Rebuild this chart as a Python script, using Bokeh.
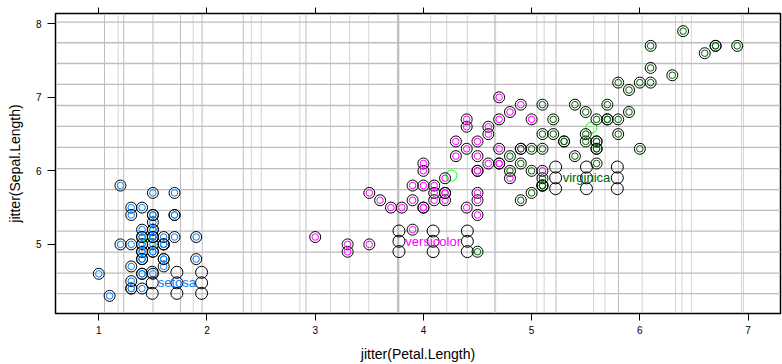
import numpy as np
from bokeh.plotting import figure
from bokeh.models import LinearAxis, Range1d, FixedTicker, CustomLabelingPolicy
from bokeh.embed import file_html
from bokeh.resources import INLINE
from bokeh.core.properties import value

species = ["setosa", "versicolor", "virginica"]
colors = ["#0080ff", "#ff00ff", "#006400"]

petal_setosa = [1.4, 1.4, 1.3, 1.5, 1.4, 1.7, 1.4, 1.5, 1.4, 1.5, 1.5, 1.6, 1.4, 1.1, 1.2, 1.5, 1.3, 1.4, 1.7, 1.5,
                1.7, 1.5, 1.0, 1.7, 1.9, 1.6, 1.6, 1.5, 1.4, 1.6, 1.6, 1.5, 1.5, 1.4, 1.5, 1.2, 1.3, 1.4, 1.3, 1.5,
                1.3, 1.3, 1.3, 1.6, 1.9, 1.4, 1.6, 1.4, 1.5, 1.4]
sepal_setosa = [5.1, 4.9, 4.7, 4.6, 5.0, 5.4, 4.6, 5.0, 4.4, 4.9, 5.4, 4.8, 4.8, 4.3, 5.8, 5.7, 5.4, 5.1, 5.7, 5.1,
                5.4, 5.1, 4.6, 5.1, 4.8, 5.0, 5.0, 5.2, 5.2, 4.7, 4.8, 5.4, 5.2, 5.5, 4.9, 5.0, 5.5, 4.9, 4.4, 5.1,
                5.0, 4.5, 4.4, 5.0, 5.1, 4.8, 5.1, 4.6, 5.3, 5.0]
petal_versicolor = [4.7, 4.5, 4.9, 4.0, 4.6, 4.5, 4.7, 3.3, 4.6, 3.9, 3.5, 4.2, 4.0, 4.7, 3.6, 4.4, 4.5, 4.1, 4.5, 3.9,
                    4.8, 4.0, 4.9, 4.7, 4.3, 4.4, 4.8, 5.0, 4.5, 3.5, 3.8, 3.7, 3.9, 5.1, 4.5, 4.5, 4.7, 4.4, 4.1, 4.0,
                    4.4, 4.6, 4.0, 3.3, 4.2, 4.2, 4.2, 4.3, 3.0, 4.1]
sepal_versicolor = [7.0, 6.4, 6.9, 5.5, 6.5, 5.7, 6.3, 4.9, 6.6, 5.2, 5.0, 5.9, 6.0, 6.1, 5.6, 6.7, 5.6, 5.8, 6.2, 5.6,
                    5.9, 6.1, 6.3, 6.1, 6.4, 6.6, 6.8, 6.7, 6.0, 5.7, 5.5, 5.5, 5.8, 6.0, 5.4, 6.0, 6.7, 6.3, 5.6, 5.5,
                    5.5, 6.1, 5.8, 5.0, 5.6, 5.7, 5.7, 6.2, 5.1, 5.7]
petal_virginica = [6.0, 5.1, 5.9, 5.6, 5.8, 6.6, 4.5, 6.3, 5.8, 6.1, 5.1, 5.3, 5.5, 5.0, 5.1, 5.3, 5.5, 6.7, 6.9, 5.0,
                   5.7, 4.9, 6.7, 4.9, 5.7, 6.0, 4.8, 4.9, 5.6, 5.8, 6.1, 6.4, 5.6, 5.1, 5.6, 6.1, 5.6, 5.5, 4.8, 5.4,
                   5.6, 5.1, 5.1, 5.9, 5.7, 5.2, 5.0, 5.2, 5.4, 5.1]
sepal_virginica = [6.3, 5.8, 7.1, 6.3, 6.5, 7.6, 4.9, 7.3, 6.7, 7.2, 6.5, 6.4, 6.8, 5.7, 5.8, 6.4, 6.5, 7.7, 7.7, 6.0,
                   6.9, 5.6, 7.7, 6.3, 6.7, 7.2, 6.2, 6.1, 6.4, 7.2, 7.4, 7.9, 6.4, 6.3, 6.1, 7.7, 6.3, 6.4, 6.0, 6.9,
                   6.7, 6.9, 5.8, 6.8, 6.7, 6.7, 6.3, 6.5, 6.2, 5.9]

# direct-label placement (centre) and half-extent of label box
label_x = [1.722, 4.090, 5.507]
label_y = [4.477, 5.042, 5.905]
label_dx = [0.228, 0.316, 0.285]
label_dy = [0.143, 0.140, 0.147]

# reference grid lines
grid_v = [1.053, 1.179, 1.231, 1.501, 1.755, 1.872, 1.955, 2.335, 2.409, 2.501, 2.858, 2.915, 3.141, 3.319,
          3.495, 3.767, 4.066, 4.216, 4.405, 4.662, 5.048, 5.116, 5.225, 5.572, 5.678, 5.803, 6.022, 6.330,
          6.390, 6.476, 6.940, 6.958]
grid_v_dark = [1, 0, 1, 1, 1, 0, 1, 1, 0, 0, 0, 1, 0, 0, 0, 1, 0, 0, 0, 0, 0, 0, 1, 0, 0, 1, 0, 0, 0, 0, 0, 0]
grid_v_thick = [0, 0, 0, 0, 0, 0, 0, 0, 0, 0, 0, 0, 0, 0, 0, 1, 0, 0, 0, 1, 0, 0, 0, 0, 0, 0, 0, 0, 0, 0, 0, 0]
grid_h = [4.330, 4.610, 4.896, 5.181, 5.463, 5.744, 6.029, 6.319, 6.604, 6.889, 7.175, 7.460, 7.742, 8.022]

x_ticks = [1, 2, 3, 4, 5, 6, 7]
y_ticks = [5, 6, 7, 8]
xlim = (0.6, 7.3)
ylim = (4.06, 8.14)

petal = [petal_setosa, petal_versicolor, petal_virginica]
sepal = [sepal_setosa, sepal_versicolor, sepal_virginica]

FONT = "Liberation Sans"

p = figure(width=782, height=364, x_range=Range1d(*xlim), y_range=Range1d(*ylim),
           output_backend="svg", toolbar_location=None,
           min_border_left=55, min_border_right=2, min_border_top=13, min_border_bottom=51,
           background_fill_color="white", border_fill_color="white")
p.xgrid.visible = False
p.ygrid.visible = False
p.outline_line_color = "black"
p.outline_line_width = 1.5

for ax, ticks in ((p.xaxis[0], x_ticks), (p.yaxis[0], y_ticks)):
    ax.ticker = FixedTicker(ticks=ticks)
    ax.major_tick_in = 0
    ax.minor_tick_out = 0
    ax.minor_tick_in = 0
    ax.axis_line_color = "black"
    ax.major_tick_line_color = "black"
    ax.major_label_text_font = FONT
    ax.major_label_text_font_size = "10px"
    ax.major_label_text_color = "black"
    ax.axis_label_text_font = FONT
    ax.axis_label_text_font_size = "14px"
    ax.axis_label_text_font_style = "normal"
    ax.axis_label_text_color = "black"

p.xaxis.axis_label = "jitter(Petal.Length)"
p.yaxis.axis_label = "jitter(Sepal.Length)"
p.xaxis.major_tick_out = 7
p.xaxis.major_label_standoff = 5
p.xaxis.axis_label_standoff = 9
p.yaxis.major_tick_out = 8
p.yaxis.major_label_standoff = 6
p.yaxis.axis_label_standoff = 10
p.yaxis.major_label_orientation = "horizontal"

hide_all = CustomLabelingPolicy(code="return new indices.constructor(indices.size, 0);")
top = LinearAxis(ticker=FixedTicker(ticks=x_ticks), major_tick_out=6, major_tick_in=0,
                 minor_tick_out=0, minor_tick_in=0, major_label_text_font_size="0px",
                 major_label_policy=hide_all,
                 major_label_standoff=0, axis_line_color="black")
p.add_layout(top, "above")

# grid lines
vx = np.array(grid_v)
vcol = np.where(np.array(grid_v_dark) == 1, "#bdbdbd", "#d4d4d4")
vw = np.where(np.array(grid_v_thick) == 1, 2.2, 1.0)
p.segment(x0=vx, y0=[ylim[0]] * len(vx), x1=vx, y1=[ylim[1]] * len(vx),
          line_color=list(vcol), line_width=list(vw))
hy = np.array(grid_h)
p.segment(x0=[xlim[0]] * len(hy), y0=hy, x1=[xlim[1]] * len(hy), y1=hy,
          line_color="#bebebe", line_width=1.3)

# group centroids
cx = [float(np.mean(v)) for v in petal]
cy = [float(np.mean(v)) for v in sepal]
p.scatter(cx, cy, marker="circle", size=11, fill_color=None, line_color="#00ff00", line_width=1)

# points: black rings then coloured inner circles
for i in range(3):
    p.scatter(petal[i], sepal[i], marker="circle", size=11, fill_color=None,
              line_color="black", line_width=1)
for i in range(3):
    p.scatter(petal[i], sepal[i], marker="circle", size=6.5, fill_color=None,
              line_color=colors[i], line_width=1)

# label box circles
bx, by = [], []
for i in range(3):
    for sx in (-1, 0, 1):
        for sy in (-1, 0, 1):
            bx.append(label_x[i] + sx * label_dx[i])
            by.append(label_y[i] + sy * label_dy[i])
p.scatter(bx, by, marker="circle", size=12, fill_color=None, line_color="black", line_width=1)

p.text(x=label_x, y=label_y, text=species, text_color=colors,
       text_font=value(FONT), text_font_size="13px",
       text_align="center", text_baseline="middle")

open("out.html", "w").write(file_html(p, INLINE))
